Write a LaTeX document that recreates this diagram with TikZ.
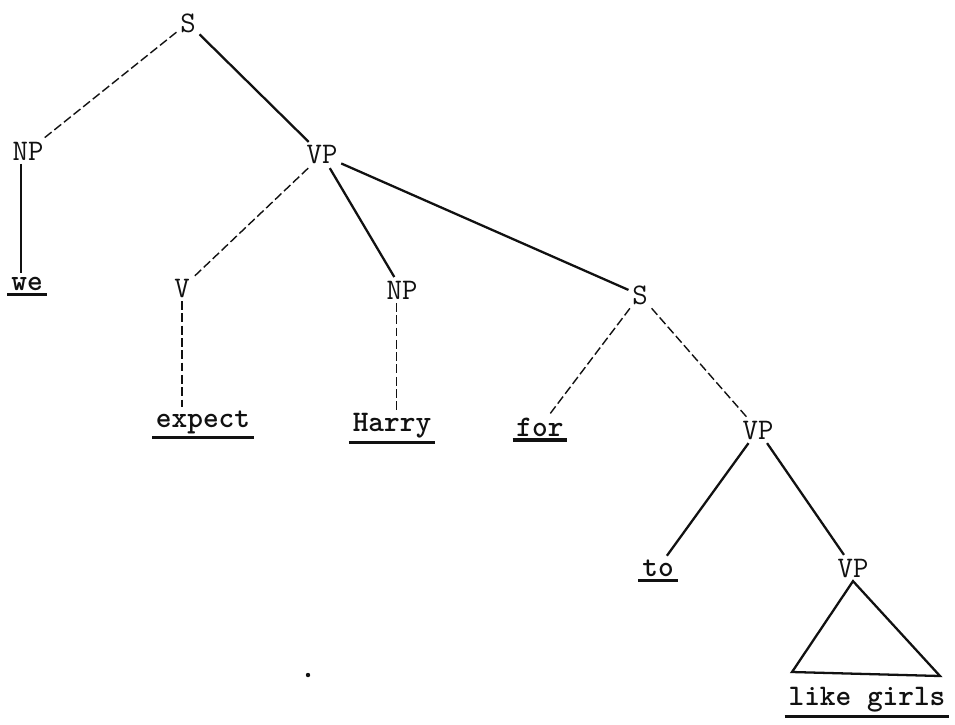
\documentclass[tikz,border=0pt]{standalone}
\usepackage{xcolor}
\usetikzlibrary{calc}
\definecolor{Ink}{HTML}{111111}

\begin{document}
\begin{tikzpicture}[x=0.02cm,y=-0.02cm,every node/.style={font=\ttfamily\fontsize{17}{20}\selectfont,text=Ink,inner sep=2pt},word/.style={font=\ttfamily\bfseries\fontsize{17}{20}\selectfont},branch/.style={draw=Ink,line width=1.3pt},faint/.style={draw=Ink,line width=0.8pt,dash pattern=on 5pt off 2pt},uline/.style={draw=Ink,line width=2pt}]
\useasboundingbox (0,0) rectangle (955,724);
\node(s0) at (188,23){S};
\node(np1) at (28,151){NP};
\node(vp1) at (322,155){VP};
\node[word](we) at (27,284){we};
\node(v) at (182,288){V};
\node(np2) at (402,290){NP};
\node(s2) at (640,295){S};
\node[word](expect) at (203,422){expect};
\node[word](harry) at (392,426){Harry};
\node[word](for) at (540,427){for};
\node(vp2) at (758,430){VP};
\node[word](to) at (658,568){to};
\node(vp3) at (853,568){VP};
\node[word](lg) at (867,700){like girls};
\coordinate(bl) at (792,672);
\coordinate(br) at (940,676);
\draw[faint](s0)--(np1);
\draw[branch](s0)--(vp1);
\draw[branch]([xshift=-4pt]np1.south)--([xshift=-4pt]np1.south |- we.north);
\draw[faint](vp1)--(v);
\draw[branch](vp1)--(np2);
\draw[branch](vp1)--(s2);
\draw[faint](v.south)--(v.south |- expect.north);
\draw[faint]([xshift=-3pt]np2.south)--([xshift=-3pt]np2.south |- harry.north);
\draw[faint](s2)--(for);
\draw[faint](s2)--(vp2);
\draw[branch](vp2)--(to);
\draw[branch](vp2)--(vp3);
\draw[branch](vp3.south)--(bl)--(br)--cycle;
\foreach \w in {we,expect,harry,for,to,lg}
  \draw[uline](\w.south west)--(\w.south east);
\fill[Ink](308,675) circle (2.2);
\end{tikzpicture}
\end{document}
